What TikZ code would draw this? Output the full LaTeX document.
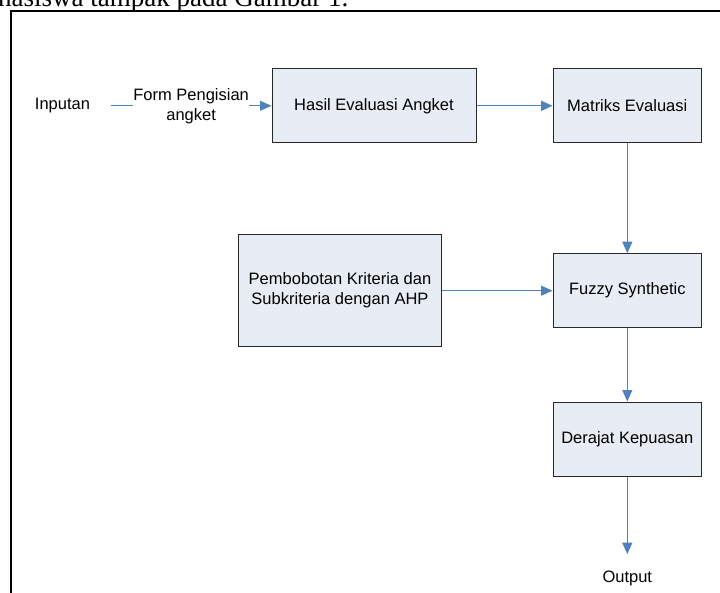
\documentclass[tikz,border=0pt]{standalone}
\usepackage{fontspec}
\setmainfont{Liberation Sans}
\newfontfamily\headerfont{Liberation Serif}
\usetikzlibrary{arrows.meta}
\definecolor{boxfill}{RGB}{232,236,244}
\definecolor{boxline}{RGB}{40,40,40}
\definecolor{linkblue}{RGB}{79,129,189}
\begin{document}
\begin{tikzpicture}[x=1pt,y=1pt,
  every node/.style={font=\fontsize{16.5}{20}\selectfont},
  procbox/.style={draw=boxline,line width=1pt,fill=boxfill,inner sep=0pt,align=center},
  link/.style={draw=linkblue,line width=1.2pt,-{Triangle[length=11.5pt,width=10pt]}},
  plainlink/.style={draw=linkblue,line width=1.2pt}]
\useasboundingbox (0,0) rectangle (720,-592);
\clip (0,0) rectangle (720,-592);
% header text (cut off at the top of the page)
\node[anchor=base west,inner sep=0pt,font=\headerfont\fontsize{27}{30}\selectfont] (header) at (-2,-6) {hasiswa tampak pada Gambar 1.};
% frame
\draw[line width=2.2pt,black] (11,-700) -- (11,-11.3) -- (740,-11.3);
% boxes
\node[procbox,minimum width=204pt,minimum height=73.7pt] (hasil) at (374,-105.8) {Hasil Evaluasi Angket};
\node[procbox,minimum width=148.5pt,minimum height=74pt] (matriks) at (627.3,-105.8) {Matriks Evaluasi};
\node[procbox,minimum width=148.5pt,minimum height=74pt] (fuzzy) at (627.3,-290.7) {Fuzzy Synthetic};
\node[procbox,minimum width=203.4pt,minimum height=111.7pt] (bobot) at (340,-290.7) {Pembobotan Kriteria dan\\Subkriteria dengan AHP};
\node[procbox,minimum width=148.5pt,minimum height=74pt] (derajat) at (627.3,-439) {Derajat Kepuasan};
% free texts
\node[inner sep=0pt,outer xsep=20.7pt] (inputan) at (62.5,-105.8) {Inputan};
\node[inner sep=0pt,outer ysep=16.7pt] (output) at (627.3,-578.3) {Output};
% connectors
\draw[link] (inputan) -- node[fill=white,inner xsep=0.5pt,inner ysep=1pt,align=center] (form) {Form Pengisian\\angket} (hasil);
\draw[link] (hasil) -- (matriks);
\draw[link] (matriks) -- (fuzzy);
\draw[link] (bobot) -- (fuzzy);
\draw[link] (fuzzy) -- (derajat);
\draw[link] (derajat) -- (output);
\end{tikzpicture}
\end{document}
